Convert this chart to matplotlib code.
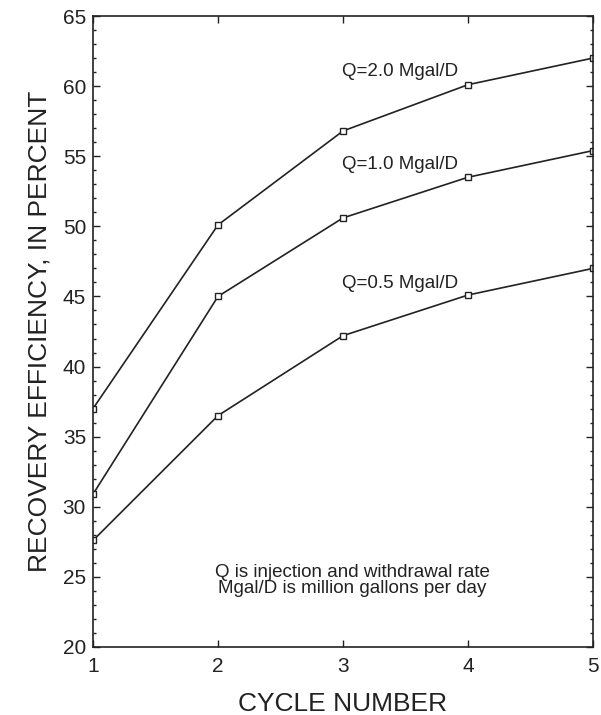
import matplotlib.pyplot as plt
from matplotlib.ticker import MultipleLocator

plt.rcParams['font.family'] = ['Liberation Sans', 'DejaVu Sans']

# cycle number and recovery efficiency (percent) for each rate
cycles = [1, 2, 3, 4, 5]
q20 = [37.0, 50.1, 56.8, 60.1, 62.0]
q10 = [30.9, 45.0, 50.6, 53.5, 55.4]
q05 = [27.6, 36.5, 42.2, 45.1, 47.0]
labels = ['Q=2.0 Mgal/D', 'Q=1.0 Mgal/D', 'Q=0.5 Mgal/D']
label_pos = [(2.99, 60.73), (2.99, 54.1), (2.99, 45.6)]

ink = '#222222'

fig = plt.figure(figsize=(6.01, 7.15), dpi=100)
ax = fig.add_axes([93 / 601, 68 / 715, 500 / 601, 631 / 715])

for ys in (q20, q10, q05):
    ax.plot(cycles, ys, '-', color=ink, lw=1.2, marker='s', ms=5,
            mfc='white', mec=ink, mew=1.0)

for txt, (tx, ty) in zip(labels, label_pos):
    ax.text(tx, ty, txt, fontsize=13.5, color=ink, ha='left', va='baseline')

# note about the units
ax.text(1.976, 24.99, 'Q is injection and withdrawal rate', fontsize=13.5,
        color=ink, ha='left', va='baseline')
ax.text(2.0, 23.85, 'Mgal/D is million gallons per day', fontsize=13.5,
        color=ink, ha='left', va='baseline')

ax.set_xlim(1, 5)
ax.set_ylim(20, 65)
ax.xaxis.set_major_locator(MultipleLocator(1))
ax.yaxis.set_major_locator(MultipleLocator(5))
ax.yaxis.set_minor_locator(MultipleLocator(1))

ax.tick_params(which='both', direction='in', top=True, right=True,
               color=ink, labelcolor=ink, labelsize=15)
ax.tick_params(which='major', length=5, width=1.0)
ax.tick_params(which='minor', length=2.5, width=1.0)
ax.tick_params(axis='x', pad=7)
ax.tick_params(axis='y', pad=5)

for s in ax.spines.values():
    s.set_color(ink)
    s.set_linewidth(1.2)

ax.set_xlabel('CYCLE NUMBER', fontsize=19, color=ink, labelpad=12)
ax.set_ylabel('RECOVERY EFFICIENCY, IN PERCENT', fontsize=19, color=ink,
              labelpad=8)

fig.savefig('out.png', dpi=100)
